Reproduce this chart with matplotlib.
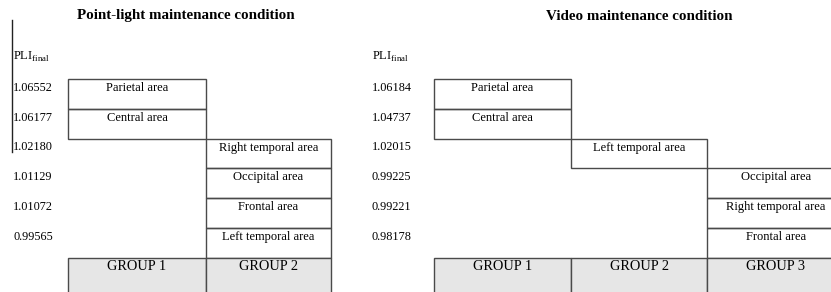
import matplotlib.pyplot as plt
from matplotlib.patches import Rectangle

plt.rcParams['font.family'] = 'Liberation Serif'
plt.rcParams['mathtext.fontset'] = 'custom'
plt.rcParams['mathtext.rm'] = 'Liberation Serif'

# point-light condition
pl_values = ['1.06552', '1.06177', '1.02180', '1.01129', '1.01072', '0.99565']
pl_areas = ['Parietal area', 'Central area', 'Right temporal area',
            'Occipital area', 'Frontal area', 'Left temporal area']
pl_groups = [1, 1, 2, 2, 2, 2]
pl_group_names = ['GROUP 1', 'GROUP 2']

# video condition
vid_values = ['1.06184', '1.04737', '1.02015', '0.99225', '0.99221', '0.98178']
vid_areas = ['Parietal area', 'Central area', 'Left temporal area',
             'Occipital area', 'Right temporal area', 'Frontal area']
vid_groups = [1, 1, 2, 3, 3, 3]
vid_group_names = ['GROUP 1', 'GROUP 2', 'GROUP 3']

fig = plt.figure(figsize=(8.31, 2.92), dpi=100)
ax = fig.add_axes([0, 0, 1, 1])
ax.set_xlim(0, 831)
ax.set_ylim(292, 0)
ax.axis('off')

line_c = '#4a4a4a'
row_top = 79
row_h = 29.75


def draw_panel(title, title_x, values, areas, groups, group_names, val_x, col_edges):
    ax.text(title_x, 16, title, ha='center', va='center', fontsize=10.8, fontweight='bold')
    ax.text(val_x, 57, r'$\mathrm{PLI}_{\mathrm{final}}$', ha='left', va='center', fontsize=9)
    for i, (v, a, g) in enumerate(zip(values, areas, groups)):
        y0 = row_top + i * row_h
        ax.text(val_x, y0 + 9, v, ha='left', va='center', fontsize=8.8)
        x0, x1 = col_edges[g - 1], col_edges[g]
        ax.add_patch(Rectangle((x0, y0), x1 - x0, row_h, fill=False,
                               edgecolor=line_c, lw=1))
        ax.text((x0 + x1) / 2, y0 + 9, a, ha='center', va='center', fontsize=9)
    gy = row_top + len(values) * row_h
    for j, name in enumerate(group_names):
        x0, x1 = col_edges[j], col_edges[j + 1]
        ax.add_patch(Rectangle((x0, gy), x1 - x0, 50, facecolor='#e6e6e6',
                               edgecolor=line_c, lw=1))
        ax.text((x0 + x1) / 2, gy + 8.5, name, ha='center', va='center', fontsize=10.4)


draw_panel('Point-light maintenance condition', 186, pl_values, pl_areas, pl_groups,
           pl_group_names, 13, [68, 206, 331])
draw_panel('Video maintenance condition', 639, vid_values, vid_areas, vid_groups,
           vid_group_names, 372, [434, 571, 707, 845])

ax.plot([12, 12], [20, 152], color='#222222', lw=1)

fig.savefig('out.png', dpi=100)
